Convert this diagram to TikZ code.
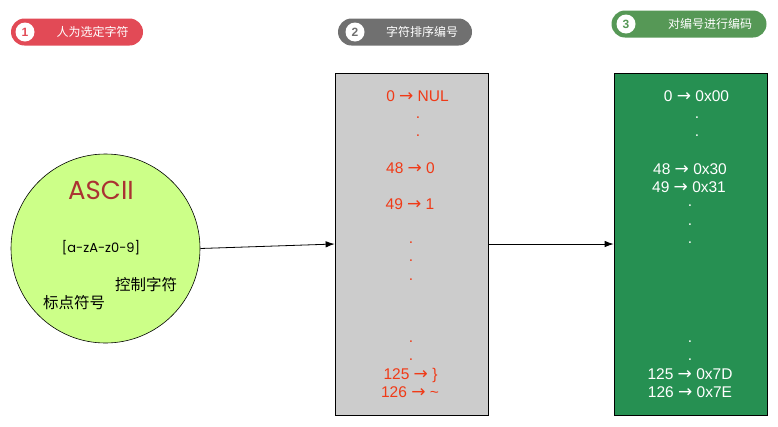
\documentclass[tikz,border=0pt]{standalone}
\usepackage{fontspec}
\setmainfont{Liberation Sans}
\newfontfamily\cjk{Noto Sans CJK SC}
\newfontfamily\geo{Poppins}
\newfontfamily\symb{DejaVu Sans}
\newcommand\arr{{\symb\fontsize{17}{18}\selectfont →}}
\usetikzlibrary{arrows.meta}
\definecolor{badgered}{RGB}{226,74,86}
\definecolor{badgegray}{RGB}{112,112,112}
\definecolor{badgegreen}{RGB}{86,152,86}
\definecolor{asciifill}{RGB}{204,255,136}
\definecolor{asciired}{RGB}{170,50,50}
\definecolor{sortgray}{RGB}{204,204,204}
\definecolor{codegreen}{RGB}{38,144,82}
\definecolor{numred}{RGB}{240,58,23}

\tikzset{
  badge/.style={rounded corners=13.5pt,minimum height=27pt,inner sep=0pt},
  numdot/.style={fill=white,circle,minimum size=19pt,inner sep=0pt,font=\bfseries\fontsize{12}{14}\selectfont},
  badgetext/.style={text=white,inner sep=0pt,font=\cjk\fontsize{12}{14}\selectfont},
  column/.style={draw,line width=0.8pt,minimum width=153pt,minimum height=342pt,inner sep=0pt},
  entry/.style={inner sep=0pt,text height=11pt,text depth=0pt,font=\fontsize{15.5}{18}\selectfont},
  dotmark/.style={inner sep=0pt,font=\fontsize{15.5}{18}\selectfont},
  link/.style={line width=0.8pt,-{Latex[length=9pt,width=6.5pt]}}
}

\begin{document}
\begin{tikzpicture}[x=1pt,y=-1pt]
  \useasboundingbox (0,0) rectangle (778,426);

  % steps on top
  \node (B1) at (77,32) [badge,fill=badgered,minimum width=132pt] {};
  \node (N1) at (25,32) [numdot,text=badgered] {1};
  \node (T1) at (92.5,32) [badgetext] {人为选定字符};

  \node (B2) at (405,32) [badge,fill=badgegray,minimum width=134pt] {};
  \node (N2) at (355,32) [numdot,text=badgegray] {2};
  \node (T2) at (422,32) [badgetext] {字符排序编号};

  \node (B3) at (689,24) [badge,fill=badgegreen,minimum width=155pt] {};
  \node (N3) at (626,24) [numdot,text=badgegreen] {3};
  \node (T3) at (710,24) [badgetext] {对编号进行编码};

  % the character set
  \node (A) at (105.5,248.5) [circle,draw,line width=0.6pt,fill=asciifill,minimum size=189pt,inner sep=0pt] {};
  \node (Aname) at (101,190) [text=asciired,inner sep=0pt,font=\geo\fontsize{26}{30}\selectfont] {ASCII};
  \node (Arange) at (101,248) [inner sep=0pt,font=\geo\fontsize{13}{16}\selectfont] {[a-zA-z0-9]};
  \node (Actrl) at (146,285) [inner sep=0pt,font=\cjk\fontsize{15.5}{18}\selectfont] {控制字符};
  \node (Apunct) at (74,303) [inner sep=0pt,font=\cjk\fontsize{15.5}{18}\selectfont] {标点符号};

  % sorted numbers
  \node (S) at (411.5,244) [column,fill=sortgray] {};
  \node (S0) at (417.5,96) [entry,text=numred] {0 \arr{} NUL};
  \node (Sd1) at (418,118) [dotmark,text=numred] {.};
  \node (Sd2) at (418,136) [dotmark,text=numred] {.};
  \node (S48) at (410.5,168) [entry,text=numred] {48 \arr{} 0};
  \node (S49) at (410,204) [entry,text=numred] {49 \arr{} 1};
  \node (Sd3) at (411,243) [dotmark,text=numred] {.};
  \node (Sd4) at (411,261) [dotmark,text=numred] {.};
  \node (Sd5) at (411,280) [dotmark,text=numred] {.};
  \node (Sd6) at (411,342) [dotmark,text=numred] {.};
  \node (Sd7) at (411,360) [dotmark,text=numred] {.};
  \node (S125) at (410.5,374) [entry,text=numred] {125 \arr{} \}};
  \node (S126) at (410,392) [entry,text=numred] {126 \arr{} \char`\~};

  % encoded
  \node (E) at (690.5,244) [column,fill=codegreen] {};
  \node (E0) at (696.5,96) [entry,text=white] {0 \arr{} 0x00};
  \node (Ed1) at (697,118) [dotmark,text=white] {.};
  \node (Ed2) at (697,136) [dotmark,text=white] {.};
  \node (E48) at (690,168.5) [entry,text=white] {48 \arr{} 0x30};
  \node (E49) at (689,186.5) [entry,text=white] {49 \arr{} 0x31};
  \node (Ed3) at (690,206) [dotmark,text=white] {.};
  \node (Ed4) at (690,225) [dotmark,text=white] {.};
  \node (Ed5) at (690,243) [dotmark,text=white] {.};
  \node (Ed6) at (690,342) [dotmark,text=white] {.};
  \node (Ed7) at (690,360) [dotmark,text=white] {.};
  \node (E125) at (690,374) [entry,text=white] {125 \arr{} 0x7D};
  \node (E126) at (690,392) [entry,text=white] {126 \arr{} 0x7E};

\draw[link] (A.east) -- (S.west);
\draw[link] (S.east) -- (E.west);

\end{tikzpicture}
\end{document}
